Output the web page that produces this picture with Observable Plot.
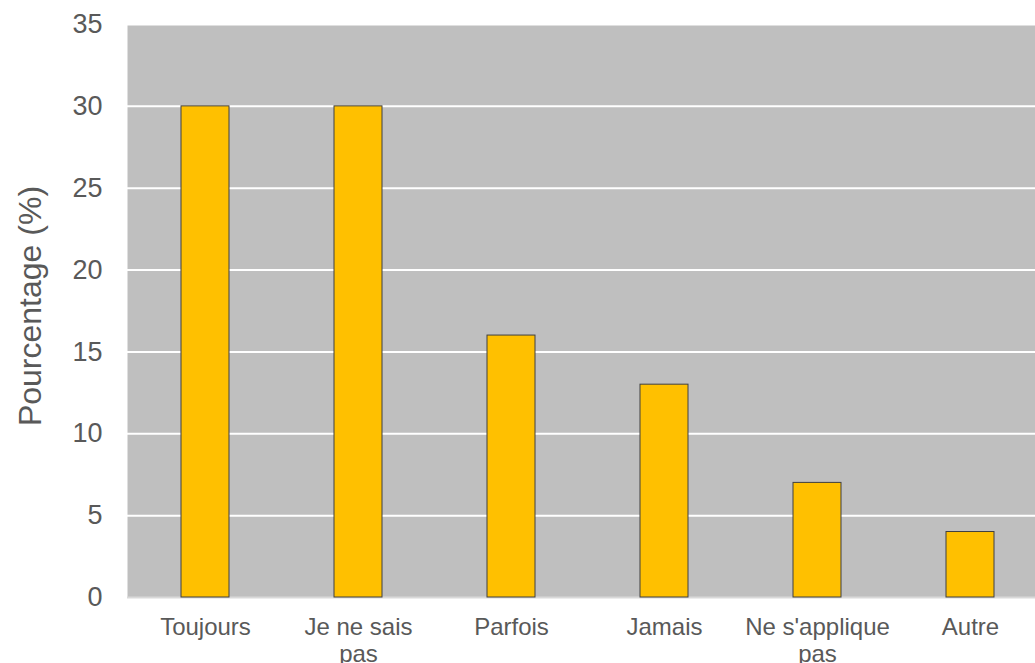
<!DOCTYPE html>
<html>
<head>
<meta charset="utf-8">
<script src="https://cdn.jsdelivr.net/npm/d3@7"></script>
<script src="https://cdn.jsdelivr.net/npm/@observablehq/plot@0.6"></script>
<style>
  html, body { margin: 0; padding: 0; background: #fff; overflow: hidden; }
  #chart svg { display: block; }
</style>
</head>
<body>
<div id="chart"></div>
<script>
const categories = ["Toujours", "Je ne sais pas", "Parfois", "Jamais", "Ne s'applique pas", "Autre"];
const tickLabels = ["Toujours", "Je ne sais\npas", "Parfois", "Jamais", "Ne s'applique\npas", "Autre"];
const values = [30, 30, 16, 13, 7, 4];
const yTicks = [0, 5, 10, 15, 20, 25, 30, 35];

const data = categories.map((c, i) => ({category: c, value: values[i]}));
const labelOf = new Map(categories.map((c, i) => [c, tickLabels[i]]));

const chart = Plot.plot({
  width: 1035,
  height: 663,
  marginLeft: 127,
  marginRight: -12,
  marginTop: 24,
  marginBottom: 66,
  style: {fontFamily: "'Liberation Sans', Arial, sans-serif", background: "#fff", overflow: "hidden"},
  x: {domain: categories, paddingInner: 0.687, paddingOuter: 0.343, align: 0.5},
  y: {domain: [0, 35], ticks: yTicks},
  marks: [
    Plot.frame({fill: "#bfbfbf", stroke: null}),
    Plot.gridY(yTicks.filter(d => d > 0), {stroke: "#ffffff", strokeOpacity: 1, strokeWidth: 2}),
    Plot.ruleY([0], {stroke: "#d9d9d9", strokeWidth: 2}),
    Plot.barY(data, {x: "category", y: "value", fill: "#ffc000", stroke: "#404040", strokeWidth: 1}),
    Plot.axisY(yTicks, {tickSize: 0, tickPadding: 25, fontSize: 27, fill: "#595959", label: null}),
    Plot.axisX({tickSize: 0, tickPadding: 19, fontSize: 24, fill: "#595959", lineHeight: 1.1, label: null,
      tickFormat: d => labelOf.get(d)}),
    Plot.text(["Pourcentage (%)"], {frameAnchor: "left", textAnchor: "middle", dx: -97, dy: -5, rotate: -90, fontSize: 32, fill: "#595959", text: d => d})
  ]
});
document.getElementById("chart").appendChild(chart);
</script>
</body>
</html>
